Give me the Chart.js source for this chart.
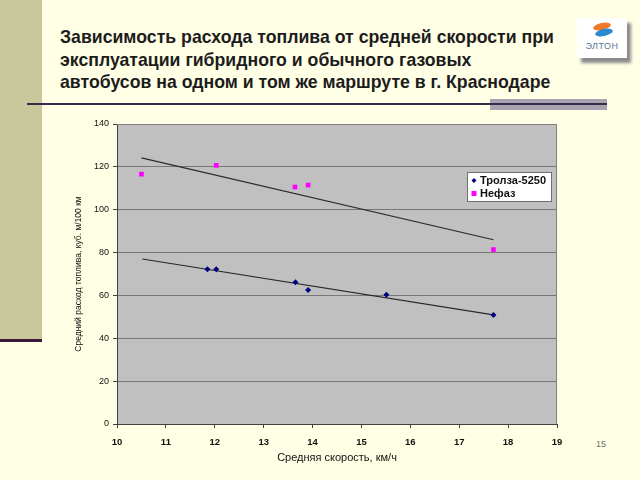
<!DOCTYPE html>
<html>
<head>
<meta charset="utf-8">
<script src="https://cdn.jsdelivr.net/npm/chart.js@4.4.1/dist/chart.umd.min.js"></script>
<style>
  html, body { margin: 0; padding: 0; }
  body { width: 640px; height: 480px; background: #ffffe5; position: relative; overflow: hidden; font-family: "Liberation Sans", Arial, sans-serif; }
  .strip { position: absolute; left: 0; top: 0; width: 42px; height: 339px; background: #c8c89c; }
  .strip-line { position: absolute; left: 0; top: 339px; width: 42px; height: 3px; background: #3a1a3a; }
  .bar { position: absolute; left: 490px; top: 99px; width: 117px; height: 11px; background: #a9a3b1; }
  .rule { position: absolute; left: 27px; top: 103px; width: 580px; height: 2px; background: #3c2a48; }
  .title { position: absolute; left: 60px; top: 26px; font-size: 17.7px; font-weight: bold; line-height: 22.6px; color: #1c1c1c; white-space: nowrap; }
  .logo { position: absolute; left: 577px; top: 18px; width: 50px; height: 40px; background: #fff; box-shadow: 4px 5px 3px #8a8a8a; }
  .logo .e1 { position: absolute; left: 16px; top: 5px; width: 18px; height: 7px; border-radius: 50%; background: #f07828; transform: rotate(-12deg); }
  .logo .e2 { position: absolute; left: 18px; top: 11px; width: 18px; height: 7px; border-radius: 50%; background: #2a8ad0; transform: rotate(-12deg); }
  .logo .txt { position: absolute; left: 0; top: 23px; width: 50px; text-align: center; font-size: 9px; letter-spacing: 0.5px; color: #5a7898; }
  .page { position: absolute; left: 596px; top: 439px; font-size: 9px; color: #707070; }
  #chart { position: absolute; left: 0; top: 0; }
</style>
</head>
<body>
<div class="strip"></div>
<div class="strip-line"></div>
<div class="bar"></div>
<div class="rule"></div>
<div class="title">Зависимость расхода топлива от средней скорости при<br>эксплуатации гибридного и обычного газовых<br>автобусов на одном и том же маршруте в г. Краснодаре</div>
<div class="logo"><div class="e1"></div><div class="e2"></div><div class="txt">ЭЛТОН</div></div>
<div class="page">15</div>
<canvas id="chart" width="640" height="480"></canvas>
<script>
// values
const trolzaX = [11.85, 12.03, 13.65, 13.91, 15.51, 17.70];
const trolzaY = [72.2, 72.2, 66.1, 62.5, 60.3, 50.9];
const nefazX = [10.50, 12.03, 13.64, 13.91, 17.70];
const nefazY = [116.6, 120.7, 110.6, 111.5, 81.4];
// trend line ends
const trolzaTrendX = [10.52, 17.70];
const trolzaTrendY = [77.0, 50.9];
const nefazTrendX = [10.50, 17.70];
const nefazTrendY = [124.2, 86.0];

const seriesNames = ["Тролза-5250", "Нефаз"];
const xTitle = "Средняя скорость, км/ч";
const yTitle = "Средний расход топлива, куб. м/100 км";

toPoints = (xs, ys) => xs.map((x, i) => ({ x: x, y: ys[i] }));

const plotBg = {
  id: "plotBg",
  beforeDraw: (chart) => {
    const a = chart.chartArea;
    const ctx = chart.ctx;
    ctx.save();
    ctx.fillStyle = "#c0c0c0";
    ctx.fillRect(a.left, a.top, a.right - a.left, a.bottom - a.top);
    ctx.restore();
  },
  afterDraw: (chart) => {
    const a = chart.chartArea;
    const ctx = chart.ctx;
    ctx.save();
    ctx.strokeStyle = "#808080";
    ctx.lineWidth = 1;
    ctx.beginPath();
    ctx.moveTo(a.left, a.top + 0.5);
    ctx.lineTo(a.right - 0.5, a.top + 0.5);
    ctx.lineTo(a.right - 0.5, a.bottom);
    ctx.stroke();
    // legend box inside the plot
    const lx = a.right - 90, ly = a.top + 48;
    ctx.fillStyle = "#ffffff";
    ctx.fillRect(lx, ly, 84, 29);
    ctx.strokeStyle = "#707070";
    ctx.strokeRect(lx + 0.5, ly + 0.5, 84, 29);
    ctx.font = "bold 11px 'Liberation Sans', Arial, sans-serif";
    ctx.textBaseline = "middle";
    const items = chart.data.datasets.filter((d) => d.inLegend);
    items.forEach((d, i) => {
      const cy = ly + 8.5 + i * 13;
      const cx = lx + 7;
      ctx.fillStyle = d.backgroundColor;
      if (d.pointStyle === "rectRot") {
        ctx.beginPath();
        ctx.moveTo(cx, cy - 2.5);
        ctx.lineTo(cx + 2.5, cy);
        ctx.lineTo(cx, cy + 2.5);
        ctx.lineTo(cx - 2.5, cy);
        ctx.closePath();
        ctx.fill();
      } else {
        ctx.fillRect(cx - 2.5, cy - 2.5, 5, 5);
      }
      ctx.fillStyle = "#111";
      ctx.fillText(d.label, lx + 13, cy + 0.5);
    });
    ctx.restore();
  },
};

const chart = new Chart(document.getElementById("chart"), {
  type: "scatter",
  data: {
    datasets: [
      {
        label: seriesNames[0],
        inLegend: true,
        data: toPoints(trolzaX, trolzaY),
        pointStyle: "rectRot",
        pointRadius: 3,
        backgroundColor: "#000080",
        borderColor: "#000080",
        borderWidth: 0,
        order: 0,
      },
      {
        label: seriesNames[1],
        inLegend: true,
        data: toPoints(nefazX, nefazY),
        pointStyle: "rect",
        pointRadius: 3.3,
        backgroundColor: "#ff00ff",
        borderColor: "#ff00ff",
        borderWidth: 0,
        order: 0,
      },
      {
        label: "trend1",
        data: toPoints(trolzaTrendX, trolzaTrendY),
        showLine: true,
        pointRadius: 0,
        borderColor: "#2a2a2a",
        borderWidth: 1.2,
        order: 1,
      },
      {
        label: "trend2",
        data: toPoints(nefazTrendX, nefazTrendY),
        showLine: true,
        pointRadius: 0,
        borderColor: "#2a2a2a",
        borderWidth: 1.2,
        order: 1,
      },
    ],
  },
  options: {
    responsive: false,
    animation: false,
    layout: { padding: { left: 60, right: 83, top: 124, bottom: 0 } },
    plugins: {
      legend: { display: false },
      tooltip: { enabled: false },
    },
    scales: {
      x: {
        type: "linear",
        min: 10,
        max: 19,
        ticks: {
          stepSize: 1,
          padding: 9,
          color: "#111",
          font: { family: "'Liberation Sans', Arial, sans-serif", size: 9.5, weight: "bold" },
        },
        grid: { drawOnChartArea: false, tickLength: 4, tickColor: "#404040" },
        border: { color: "#404040", width: 1 },
        title: {
          display: true,
          text: xTitle,
          color: "#111",
          padding: { top: 0, bottom: 15 },
          font: { family: "'Liberation Sans', Arial, sans-serif", size: 11 },
        },
        afterFit: (s) => { s.height = 56; },
      },
      y: {
        type: "linear",
        min: 0,
        max: 140,
        ticks: {
          stepSize: 20,
          padding: 4,
          color: "#111",
          font: { family: "'Liberation Sans', Arial, sans-serif", size: 9 },
        },
        grid: { color: "#787878", lineWidth: 1, tickLength: 4, tickColor: "#404040" },
        border: { color: "#404040", width: 1 },
        title: {
          display: true,
          text: yTitle,
          color: "#111",
          padding: { top: 14, bottom: 0 },
          font: { family: "'Liberation Sans', Arial, sans-serif", size: 8.5 },
        },
        afterFit: (s) => { s.width = 57; },
      },
    },
  },
  plugins: [plotBg],
});
</script>
</body>
</html>
